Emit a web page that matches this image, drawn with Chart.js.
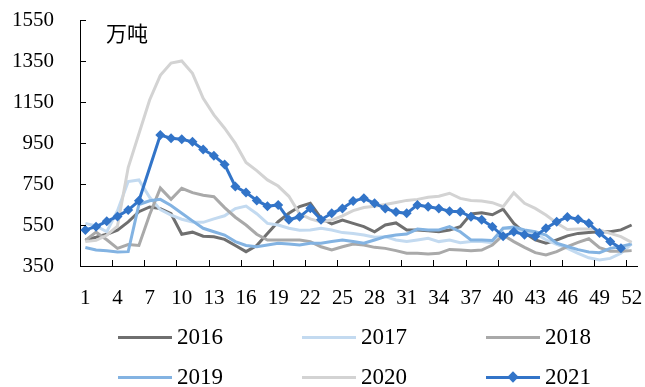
<!DOCTYPE html>
<html>
<head>
<meta charset="utf-8">
<script src="https://cdn.jsdelivr.net/npm/chart.js@4"></script>
<style>
  html, body { margin: 0; padding: 0; background: #fff; }
  #wrap { position: relative; width: 645px; height: 387px; overflow: hidden; }
  #c { position: absolute; left: 0; top: 0; }
  #unit { position: absolute; left: 106px; top: 18px; font: 21px "Noto Sans CJK SC", sans-serif; color: #000; line-height: 28px; }
  .lg { position: absolute; height: 30px; display: flex; align-items: center; font: 23px "Liberation Serif", "Times New Roman", serif; color: #000; }
  .lg .swatch { position: relative; width: 54px; height: 3px; margin-right: 5px; }
  .lg .dia { position: absolute; left: 23px; top: -3px; width: 8px; height: 8px; transform: rotate(45deg); }
</style>
</head>
<body>
<div id="wrap">
  <canvas id="c" width="645" height="387"></canvas>
  <div id="unit">万吨</div>
  <div id="legend"></div>
</div>
<script>
// Weekly volume, ten-thousand tonnes, weeks 1-52
const weeks = Array.from({ length: 52 }, (_, i) => String(i + 1));
const yTicks = [350, 550, 750, 950, 1150, 1350, 1550];
const xTickLabels = ['1','4','7','10','13','16','19','22','25','28','31','34','37','40','43','46','49','52'];

const y2016 = [477,490,505,525,565,615,638,630,605,505,515,495,493,480,450,420,450,509,566,607,640,656,583,555,574,558,542,517,550,560,526,526,522,517,526,542,604,610,600,627,558,512,477,461,477,497,509,513,517,517,526,550];
const y2017 = [558,545,517,620,762,770,685,625,598,578,565,563,580,595,630,642,605,558,550,534,524,526,534,526,513,509,501,490,493,477,469,477,485,469,477,464,469,469,464,534,530,517,509,478,455,436,412,390,379,387,412,458];
const y2018 = [475,515,478,436,455,450,600,730,675,729,708,695,688,635,588,550,505,477,477,477,477,469,444,428,444,457,452,441,436,425,412,412,409,412,431,428,425,428,452,501,469,441,415,404,420,445,465,483,440,422,422,425];
const y2019 = [440,428,424,418,420,650,668,675,645,607,570,534,517,501,469,450,444,452,461,457,452,461,461,469,477,469,461,477,493,501,506,530,526,526,542,517,477,477,474,534,540,526,517,501,461,445,430,418,415,436,445,458];
const y2020 = [470,475,500,545,830,995,1160,1280,1340,1350,1290,1168,1087,1022,948,855,815,770,740,690,605,580,565,574,595,620,635,642,650,660,670,675,685,690,705,680,670,667,659,639,707,656,631,599,560,528,530,530,526,509,493,465];
const y2021 = [526,542,568,592,623,668,null,989,973,968,956,918,888,845,738,708,670,642,648,576,590,632,576,607,631,667,680,656,631,613,607,648,639,631,617,615,590,576,542,495,517,503,495,534,566,589,578,558,511,469,436,null];

const seriesNames = ['2016', '2017', '2018', '2019', '2020', '2021'];
const seriesData = [y2016, y2017, y2018, y2019, y2020, y2021];
const seriesColors = ['#6f6f6f', '#c3daf0', '#a9a9a9', '#83b3e2', '#d3d3d3', '#3274c8'];

const datasets = seriesNames.map((name, i) => {
  const withMarkers = name === '2021';
  return {
    label: name,
    data: seriesData[i],
    borderColor: seriesColors[i],
    backgroundColor: seriesColors[i],
    borderWidth: 3,
    tension: 0,
    fill: false,
    spanGaps: true,
    pointStyle: withMarkers ? 'rectRot' : 'circle',
    pointRadius: withMarkers ? 5 : 0,
    pointHoverRadius: withMarkers ? 5 : 0,
    pointBorderWidth: 0,
    order: seriesNames.length - i
  };
});

// Short tick marks drawn on the inner side of both axes
const insideTicks = {
  id: 'insideTicks',
  afterDraw(chart) {
    const { ctx, scales: { x, y } } = chart;
    ctx.save();
    ctx.strokeStyle = '#000';
    ctx.lineWidth = 1;
    ctx.beginPath();
    y.ticks.forEach(t => {
      const py = Math.round(y.getPixelForValue(t.value)) + 0.5;
      ctx.moveTo(x.left, py);
      ctx.lineTo(x.left + 6, py);
    });
    for (let i = 3; i < weeks.length; i += 3) {
      const px = Math.round((x.getPixelForValue(i - 1) + x.getPixelForValue(i)) / 2) + 0.5;
      ctx.moveTo(px, y.bottom);
      ctx.lineTo(px, y.bottom - 6);
    }
    ctx.stroke();
    ctx.restore();
  }
};

const tickFont = { family: '"Liberation Serif", "Times New Roman", serif', size: 21 };

new Chart(document.getElementById('c'), {
  type: 'line',
  data: { labels: weeks, datasets },
  options: {
    responsive: false,
    animation: false,
    layout: { padding: { top: 20, right: 8, left: 0, bottom: 0 } },
    plugins: { legend: { display: false }, tooltip: { enabled: false } },
    scales: {
      x: {
        offset: true,
        grid: { display: false, drawTicks: false },
        border: { display: true, color: '#000', width: 1 },
        ticks: {
          autoSkip: false,
          maxRotation: 0,
          padding: 20,
          color: '#000',
          font: tickFont,
          callback: (v, i) => (xTickLabels.includes(weeks[i]) ? weeks[i] : '')
        },
        afterFit(s) { s.height = 121; s.paddingLeft = 0; s.paddingRight = 0; }
      },
      y: {
        min: 350,
        max: 1550,
        grid: { display: false, drawTicks: false },
        border: { display: true, color: '#000', width: 1 },
        ticks: { padding: 26, color: '#000', font: tickFont, callback: v => String(v) },
        afterBuildTicks(s) { s.ticks = yTicks.map(v => ({ value: v })); },
        afterFit(s) { s.width = 80; s.paddingTop = 0; s.paddingBottom = 0; }
      }
    }
  },
  plugins: [insideTicks]
});

// Legend: two rows of three entries
const legendPos = [
  [118, 322], [302, 322], [486, 322],
  [118, 362], [302, 362], [486, 362]
];
const legend = document.getElementById('legend');
seriesNames.forEach((name, i) => {
  const item = document.createElement('div');
  item.className = 'lg';
  item.style.left = legendPos[i][0] + 'px';
  item.style.top = legendPos[i][1] + 'px';
  const sw = document.createElement('span');
  sw.className = 'swatch';
  sw.style.background = seriesColors[i];
  if (name === '2021') {
    const d = document.createElement('span');
    d.className = 'dia';
    d.style.background = seriesColors[i];
    sw.appendChild(d);
  }
  item.appendChild(sw);
  item.appendChild(document.createTextNode(name));
  legend.appendChild(item);
});
</script>
</body>
</html>
